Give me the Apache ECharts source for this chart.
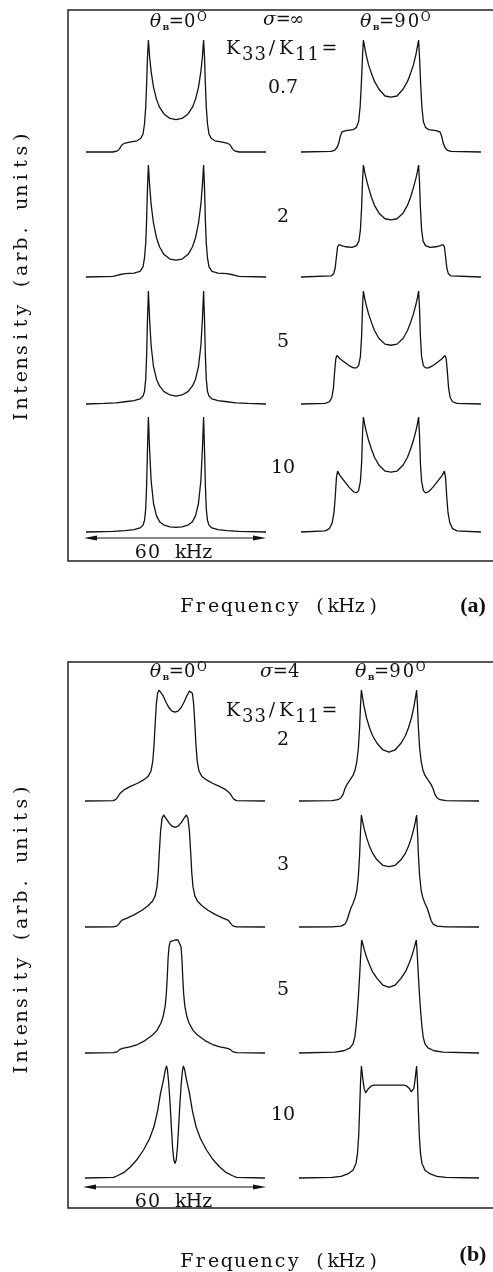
<!DOCTYPE html>
<html>
<head>
<meta charset="utf-8">
<script src="https://cdn.jsdelivr.net/npm/echarts@6/dist/echarts.min.js"></script>
<style>
  html, body { margin: 0; padding: 0; background: #fff; }
  #chart { width: 493px; height: 1272px; }
</style>
</head>
<body>
<div id="chart"></div>
<script>
// half spectra, [kHz from centre, intensity / peak]; each one is mirrored about 0
// panel (a): sigma = infinity
const aK07Par = [[0,0.29],[2,0.30],[4,0.34],[5.5,0.40],[6.5,0.47],[7.5,0.58],[8.3,0.72],[8.8,0.85],[9.2,1.0],[9.5,0.85],[9.8,0.6],[10.1,0.4],[10.5,0.25],[11,0.16],[11.8,0.12],[13,0.10],[15,0.09],[17,0.08],[18,0.065],[18.8,0.03],[19.5,0.01],[21,0],[30,0]];
const aK07Perp = [[0,0.49],[2,0.50],[4,0.56],[5.5,0.63],[6.5,0.70],[7.5,0.78],[8.3,0.87],[8.8,0.94],[9.2,1.0],[9.5,0.85],[9.9,0.6],[10.3,0.40],[10.8,0.27],[11.5,0.22],[12.5,0.20],[15,0.19],[16.3,0.18],[16.9,0.14],[17.4,0.08],[18,0.04],[18.8,0.015],[20,0.005],[30,0]];
const aK2Par = [[0,0.15],[2,0.16],[4,0.20],[5.5,0.27],[6.5,0.35],[7.5,0.48],[8.3,0.65],[8.8,0.82],[9.2,1.0],[9.5,0.8],[9.8,0.5],[10.1,0.3],[10.5,0.17],[11,0.09],[12,0.05],[14,0.035],[17,0.03],[19,0.02],[21,0.005],[30,0]];
const aK2Perp = [[0,0.51],[2,0.52],[4,0.57],[5.5,0.64],[6.5,0.71],[7.5,0.80],[8.3,0.88],[8.8,0.94],[9.2,1.0],[9.5,0.85],[9.8,0.62],[10.2,0.42],[10.7,0.32],[11.5,0.28],[13,0.265],[15,0.27],[16.5,0.28],[17.3,0.29],[17.8,0.27],[18.2,0.18],[18.6,0.08],[19.1,0.03],[20,0.01],[30,0]];
const aK5Par = [[0,0.07],[2,0.08],[4,0.11],[5.5,0.16],[6.5,0.22],[7.5,0.33],[8.3,0.52],[8.8,0.75],[9.2,1.0],[9.5,0.75],[9.8,0.42],[10.1,0.22],[10.5,0.11],[11,0.07],[12,0.045],[14,0.03],[17,0.02],[20,0.01],[24,0.005],[30,0]];
const aK5Perp = [[0,0.52],[2,0.53],[4,0.58],[5.5,0.65],[6.5,0.72],[7.5,0.80],[8.3,0.88],[8.8,0.94],[9.2,1.0],[9.5,0.85],[9.8,0.6],[10.2,0.42],[10.8,0.34],[11.5,0.32],[12.5,0.32],[14,0.34],[15.5,0.37],[17,0.40],[18,0.43],[18.4,0.40],[18.8,0.28],[19.2,0.14],[19.7,0.06],[20.5,0.02],[22,0.005],[30,0]];
const aK10Par = [[0,0.04],[2,0.045],[4,0.06],[5.5,0.09],[6.5,0.14],[7.5,0.25],[8.3,0.45],[8.8,0.72],[9.2,1.0],[9.5,0.72],[9.8,0.4],[10.1,0.2],[10.5,0.1],[11,0.06],[12,0.035],[14,0.02],[17,0.012],[21,0.005],[30,0]];
const aK10Perp = [[0,0.52],[2,0.53],[4,0.58],[5.5,0.65],[6.5,0.72],[7.5,0.80],[8.3,0.88],[8.8,0.94],[9.2,1.0],[9.5,0.85],[9.8,0.6],[10.2,0.44],[10.8,0.36],[11.5,0.34],[12.5,0.35],[14,0.39],[15.5,0.44],[17,0.49],[17.8,0.53],[18.2,0.47],[18.6,0.30],[19,0.17],[19.6,0.08],[20.5,0.03],[22,0.01],[30,0]];

// panel (b): sigma = 4
const bK2Par = [[0,0.80],[1,0.81],[2,0.84],[3,0.89],[4,0.95],[4.8,0.99],[5.3,1.0],[5.8,0.97],[6.2,0.88],[6.6,0.70],[7,0.50],[7.4,0.36],[8,0.27],[9,0.22],[10.5,0.19],[12.5,0.16],[15,0.13],[17,0.10],[18.3,0.07],[19,0.04],[19.7,0.015],[20.5,0.003],[30,0]];
const bK2Perp = [[0,0.44],[2,0.46],[4,0.52],[5.5,0.59],[6.5,0.66],[7.5,0.75],[8.3,0.85],[8.8,0.93],[9.2,1.0],[9.5,0.86],[9.8,0.66],[10.2,0.48],[10.7,0.36],[11.3,0.28],[12,0.23],[13,0.19],[14,0.15],[14.7,0.11],[15.3,0.06],[16,0.03],[17,0.012],[19,0.003],[30,0]];
const bK3Par = [[0,0.89],[1,0.90],[2,0.93],[3,0.97],[3.8,1.0],[4.3,0.97],[4.8,0.86],[5.2,0.68],[5.6,0.48],[6,0.36],[6.6,0.28],[7.5,0.23],[9,0.19],[11,0.15],[13.5,0.11],[16,0.08],[17.8,0.06],[18.6,0.03],[19.3,0.01],[20.5,0.002],[30,0]];
const bK3Perp = [[0,0.54],[2,0.55],[4,0.60],[5.5,0.66],[6.5,0.72],[7.5,0.80],[8.3,0.88],[8.8,0.94],[9.2,1.0],[9.5,0.85],[9.8,0.64],[10.2,0.46],[10.7,0.33],[11.3,0.26],[12,0.21],[12.7,0.17],[13.3,0.12],[14,0.06],[14.7,0.025],[16,0.008],[19,0.002],[30,0]];
const bK5Par = [[0,1.0],[1.0,1.0],[1.6,0.985],[2.0,0.94],[2.3,0.84],[2.6,0.66],[2.9,0.52],[3.3,0.41],[3.9,0.33],[4.6,0.27],[6,0.2],[7.5,0.16],[10,0.11],[12.5,0.075],[15,0.055],[17.5,0.04],[18.5,0.03],[19.2,0.012],[20.5,0.003],[30,0]];
const bK5Perp = [[0,0.58],[2,0.60],[4,0.66],[5.5,0.72],[6.5,0.78],[7.5,0.85],[8.2,0.91],[8.7,0.96],[9.1,1.0],[9.4,0.88],[9.8,0.68],[10.2,0.50],[10.6,0.35],[11,0.23],[11.4,0.14],[12,0.08],[13,0.045],[15,0.02],[18,0.008],[30,0]];
const bK10Par = [[0,0.13],[0.4,0.16],[0.8,0.27],[1.2,0.45],[1.6,0.65],[2.1,0.85],[2.5,0.96],[2.8,1.0],[3.2,0.97],[3.8,0.88],[4.8,0.76],[5.8,0.60],[7,0.46],[8.5,0.35],[10.5,0.25],[12.5,0.17],[14.8,0.10],[17,0.05],[19.2,0.02],[20.5,0.005],[30,0]];
const bK10Perp = [[0,0.83],[3,0.83],[5,0.83],[6,0.82],[6.8,0.80],[7.4,0.77],[7.8,0.76],[8.3,0.80],[8.7,0.88],[9.2,1.0],[9.5,0.85],[9.8,0.6],[10.1,0.38],[10.5,0.22],[11,0.13],[12,0.07],[13.5,0.04],[16,0.015],[19,0.005],[30,0]];

const ratiosA = ["0.7", "2", "5", "10"];
const ratiosB = ["2", "3", "5", "10"];
const spectraA = [[aK07Par, aK07Perp], [aK2Par, aK2Perp], [aK5Par, aK5Perp], [aK10Par, aK10Perp]];
const spectraB = [[bK2Par, bK2Perp], [bK3Par, bK3Perp], [bK5Par, bK5Perp], [bK10Par, bK10Perp]];
const freqRange = [-30, 30];

// layout (pixels): [top of peak, height to baseline] per row
const rowsA = [[40, 112], [165, 112], [291, 113], [417, 115]];
const rowsB = [[690, 111], [815, 112], [940, 113], [1066, 112]];
const colsA = [86, 301];
const colsB = [85, 299];
const panelWidth = 180;
const ink = "#111";
const serif = "DejaVu Serif";

function mirror(half) {
  const left = half.slice(1).map(([x, y]) => [-x, y]).reverse();
  return left.concat(half);
}

// every character gets its own fixed-width box: typewriter-like spacing
function mono(str, key) {
  return str.split("").map((c) => `{${key}|${c}}`).join("");
}

const grid = [];
const xAxis = [];
const yAxis = [];
const series = [];

function addPanel(rows, cols, spectra) {
  rows.forEach(([top, height], r) => {
    cols.forEach((left, c) => {
      const i = grid.length;
      grid.push({ left, top, width: panelWidth, height });
      xAxis.push({ gridIndex: i, type: "value", min: freqRange[0], max: freqRange[1], show: false });
      yAxis.push({ gridIndex: i, type: "value", min: 0, max: 1, show: false });
      series.push({
        type: "line",
        xAxisIndex: i,
        yAxisIndex: i,
        data: mirror(spectra[r][c]),
        showSymbol: false,
        clip: false,
        silent: true,
        lineStyle: { color: ink, width: 1.3 },
      });
    });
  });
}

addPanel(rowsA, colsA, spectraA);
addPanel(rowsB, colsB, spectraB);

const thetaRich = {
  th: { fontFamily: serif, fontStyle: "italic", fontSize: 19, fill: ink, width: 14, align: "center" },
  sb: { fontFamily: serif, fontWeight: "bold", fontSize: 8, padding: [11, 0, 0, 0], fill: ink, width: 7, align: "center" },
  t: { fontFamily: serif, fontSize: 18, fill: ink, width: 13.5, align: "center" },
  dg: { fontFamily: serif, fontSize: 12, padding: [0, 0, 9, 0], fill: ink, width: 11, align: "center" },
};
const kRich = {
  k: { fontFamily: serif, fontSize: 19, fill: ink, width: 17, align: "center" },
  sl: { fontFamily: serif, fontSize: 19, fill: ink, width: 11, align: "center" },
  eq: { fontFamily: serif, fontSize: 19, fill: ink, width: 20, align: "center" },
  s: { fontFamily: serif, fontSize: 18, fill: ink, padding: [13, 0, 0, 0], width: 12.5, align: "center" },
};
const wideRich = {
  w: { fontFamily: serif, fontSize: 19, fill: ink, width: 13.3, align: "center" },
};
const numRich = {
  d: { fontFamily: serif, fontSize: 19, fill: ink },
};

function text(x, y, str, rich, extra) {
  return Object.assign({
    type: "text",
    x, y,
    style: { text: str, rich, align: "center", verticalAlign: "middle", fill: ink },
  }, extra || {});
}

function arrow(x1, x2, y) {
  return [
    { type: "line", shape: { x1: x1 + 6, y1: y, x2: x2 - 6, y2: y }, style: { stroke: ink, lineWidth: 1.2 } },
    { type: "polygon", shape: { points: [[x1, y], [x1 + 13, y - 2.6], [x1 + 13, y + 2.6]] }, style: { fill: ink } },
    { type: "polygon", shape: { points: [[x2, y], [x2 - 13, y - 2.6], [x2 - 13, y + 2.6]] }, style: { fill: ink } },
  ];
}

function panelDecor(p) {
  const els = [
    { type: "rect", shape: { x: 68, y: p.frameTop, width: 430, height: p.frameBottom - p.frameTop }, style: { fill: "none", stroke: "#222", lineWidth: 1.5 } },
    text(178, p.headY, "{th|θ}{sb|B}{t|=}{t|0}{dg|O}", thetaRich),
    text(p.sigmaX, p.sigmaY, p.sigma, thetaRich),
    text(p.perpX, p.headY, "{th|θ}{sb|B}{t|=}{t|9}{t|0}{dg|O}", thetaRich),
    text(282, p.kY, "{k|K}{s|3}{s|3}{sl|/}{k|K}{s|1}{s|1}{eq|=}", kRich),
    text(174, p.arrowY + 15, mono("60 kHz", "w"), wideRich),
    text(280, p.freqY, mono("Frequency (kHz)", "w"), wideRich),
    text(22, p.intY, mono("Intensity (arb. units)", "w"), wideRich, { rotation: Math.PI / 2 }),
    { type: "text", x: 473, y: p.tagY, style: { text: p.tag, font: "bold 22px 'Liberation Serif'", fill: ink, align: "center", verticalAlign: "middle" } },
  ];
  p.ratios.forEach((r, k) => {
    els.push(text(283, p.ratioY[k], `{d|${r}}`, numRich));
  });
  return els.concat(arrow(p.arrowX[0], p.arrowX[1], p.arrowY));
}

const graphic = [
  ...panelDecor({
    frameTop: 10, frameBottom: 561, headY: 22, sigmaX: 283, sigmaY: 20, perpX: 395,
    sigma: "{th|σ}{t|=}{t|∞}", kY: 49, ratios: ratiosA, ratioY: [88, 217, 342, 468],
    arrowX: [84, 266], arrowY: 538, freqY: 607, intY: 277, tag: "(a)", tagY: 606,
  }),
  ...panelDecor({
    frameTop: 662, frameBottom: 1208, headY: 672, sigmaX: 280, sigmaY: 672, perpX: 390,
    sigma: "{th|σ}{t|=}{t|4}", kY: 711, ratios: ratiosB, ratioY: [740, 865, 990, 1115],
    arrowX: [83, 266], arrowY: 1187, freqY: 1262, intY: 930, tag: "(b)", tagY: 1255,
  }),
];

const chart = echarts.init(document.getElementById("chart"), null, { renderer: "canvas" });
chart.setOption({
  animation: false,
  backgroundColor: "#fff",
  grid,
  xAxis,
  yAxis,
  series,
  graphic,
});
</script>
</body>
</html>
